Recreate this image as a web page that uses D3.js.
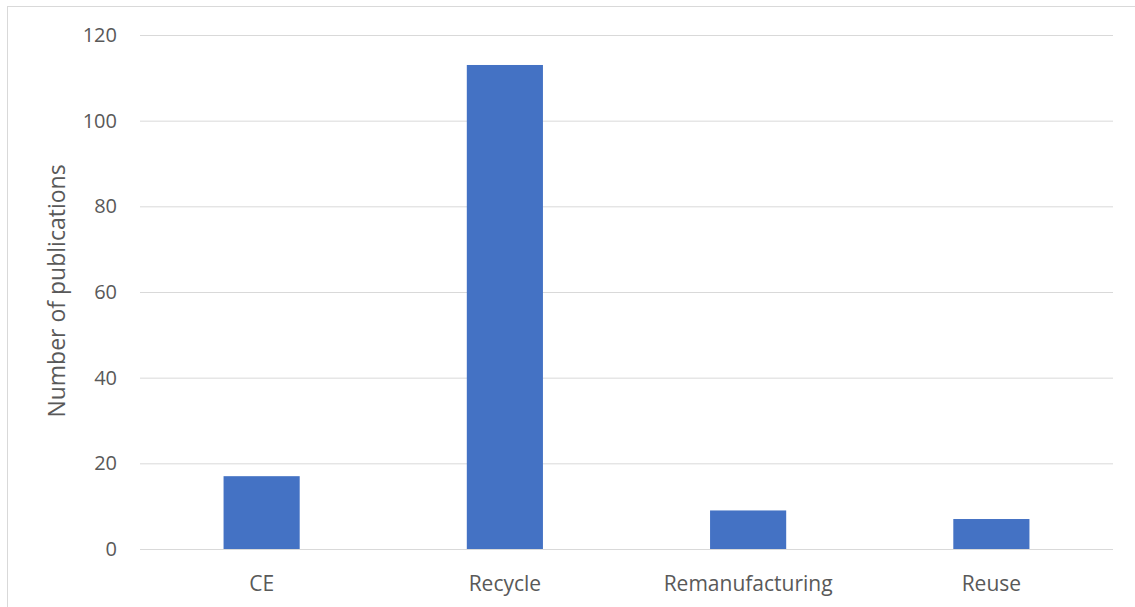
<!DOCTYPE html>
<html>
<head>
<meta charset="utf-8">
<script src="https://cdn.jsdelivr.net/npm/d3@7"></script>
<style>
  html, body { margin: 0; padding: 0; background: #fff; }
  svg { display: block; }
</style>
</head>
<body>
<svg id="chart" width="1135" height="607"></svg>
<script>
// Publications per circular-economy topic
const categories = ["CE", "Recycle", "Remanufacturing", "Reuse"];
const publications = [17, 113, 9, 7];
const yTicks = [0, 20, 40, 60, 80, 100, 120];
const yTitle = "Number of publications";

const W = 1135, H = 607;
const margin = { left: 140, right: 22, top: 35, bottom: 58 };
const font = "'Open Sans', 'Noto Sans', sans-serif";
const textColor = "#595959";
const gridColor = "#d9d9d9";
const barColor = "#4472c4";

const svg = d3.select("#chart");

// chart-area frame
svg.append("rect")
  .attr("x", 7.5).attr("y", 6.5)
  .attr("width", W + 10).attr("height", H + 10)
  .attr("fill", "none")
  .attr("stroke", gridColor)
  .attr("stroke-width", 1);

const x = d3.scaleBand()
  .domain(categories)
  .range([margin.left, W - margin.right])
  .paddingInner(0.687)
  .paddingOuter(0.3435);

const y = d3.scaleLinear()
  .domain([0, 120])
  .range([H - margin.bottom, margin.top]);

// horizontal gridlines and y labels
const yAxis = d3.axisLeft(y)
  .tickValues(yTicks)
  .tickSize(-(W - margin.right - margin.left))
  .tickPadding(23);

const gy = svg.append("g")
  .attr("transform", `translate(${margin.left},0)`)
  .call(yAxis);
gy.select(".domain").remove();
gy.selectAll(".tick line")
  .attr("stroke", gridColor)
  .attr("stroke-width", 1);
gy.selectAll(".tick text")
  .attr("fill", textColor)
  .style("font-family", font)
  .style("font-size", "20px");

// bars
svg.append("g")
  .selectAll("rect")
  .data(categories.map((c, i) => ({ c, v: publications[i] })))
  .join("rect")
  .attr("x", d => x(d.c))
  .attr("width", x.bandwidth())
  .attr("y", d => y(d.v))
  .attr("height", d => y(0) - y(d.v))
  .attr("fill", barColor);

// category axis labels
const xAxis = d3.axisBottom(x).tickSize(0).tickPadding(27);
const gx = svg.append("g")
  .attr("transform", `translate(0,${y(0)})`)
  .call(xAxis);
gx.select(".domain").remove();
gx.selectAll(".tick text")
  .attr("fill", textColor)
  .style("font-family", font)
  .style("font-size", "21px");

// y-axis title
svg.append("text")
  .attr("transform", `translate(59,${(y(0) + y(120)) / 2 - 1}) rotate(-90)`)
  .attr("text-anchor", "middle")
  .attr("dominant-baseline", "middle")
  .attr("fill", textColor)
  .style("font-family", font)
  .style("font-size", "23px")
  .text(yTitle);
</script>
</body>
</html>
